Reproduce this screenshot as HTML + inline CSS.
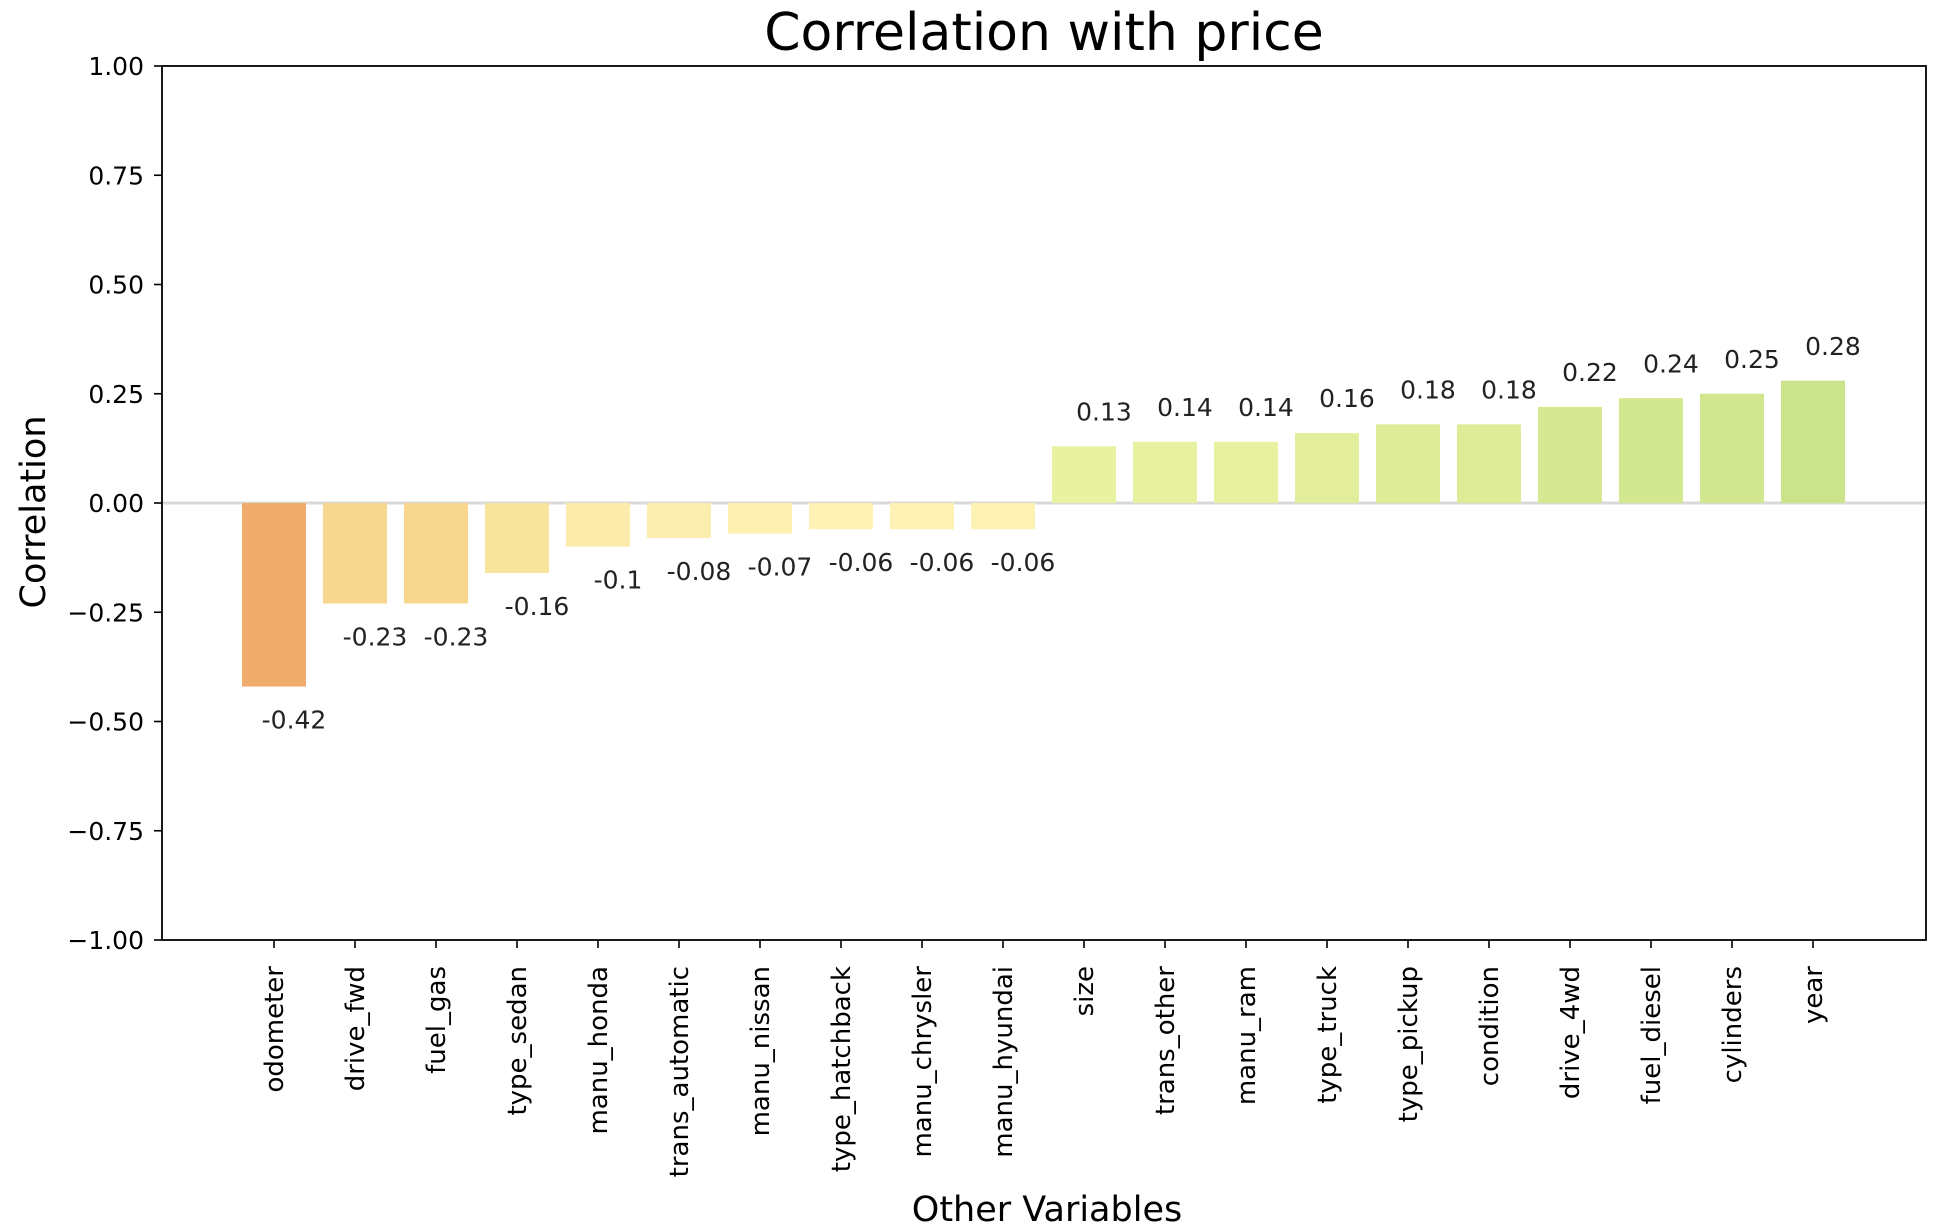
<!DOCTYPE html>
<html><head><meta charset="utf-8"><style>
html,body{margin:0;padding:0;background:#fff;}
svg{display:block;font-family:"DejaVu Sans","Liberation Sans",sans-serif;}
</style></head><body>
<svg id="chart" width="1952" height="1230" viewBox="0 0 1952 1230" xmlns="http://www.w3.org/2000/svg">
<text x="1044" y="50" font-size="52" text-anchor="middle" fill="#000">Correlation with price</text>
<text transform="translate(45,512) rotate(-90)" font-size="35" text-anchor="middle" fill="#000">Correlation</text>
<text x="1047" y="1221" font-size="35" text-anchor="middle" fill="#000">Other Variables</text>
<g id="yticks"></g>
<g id="bars"></g>
<g id="xticks"></g>
<rect x="162" y="66" width="1764" height="874" fill="none" stroke="#000" stroke-width="1.8"/>
</svg>
<script>
const categories = ["odometer","drive_fwd","fuel_gas","type_sedan","manu_honda","trans_automatic","manu_nissan","type_hatchback","manu_chrysler","manu_hyundai","size","trans_other","manu_ram","type_truck","type_pickup","condition","drive_4wd","fuel_diesel","cylinders","year"];
const values = [-0.42,-0.23,-0.23,-0.16,-0.1,-0.08,-0.07,-0.06,-0.06,-0.06,0.13,0.14,0.14,0.16,0.18,0.18,0.22,0.24,0.25,0.28];
const valueLabels = ["-0.42","-0.23","-0.23","-0.16","-0.1","-0.08","-0.07","-0.06","-0.06","-0.06","0.13","0.14","0.14","0.16","0.18","0.18","0.22","0.24","0.25","0.28"];
const yTicks = [1,0.75,0.5,0.25,0,-0.25,-0.5,-0.75,-1];
const yTickLabels = ["1.00","0.75","0.50","0.25","0.00","\u22120.25","\u22120.50","\u22120.75","\u22121.00"];

const NS = "http://www.w3.org/2000/svg";
const plotTop = 66, plotBottom = 940, plotLeft = 162, plotRight = 1926;
function yScale(v){ return plotTop + (1 - v) / 2 * (plotBottom - plotTop); }
const step = 81.0;
function xScale(i){ return 274 + i * step; }
const barW = step * 0.79;
const stops = [[-0.42,[240,172,108]],[-0.23,[247,214,142]],[-0.16,[249,228,157]],[-0.06,[253,241,180]],[0,[252,246,184]],[0.13,[233,242,161]],[0.18,[222,236,152]],[0.28,[203,227,138]]];
function colorFor(v){
  if (v <= stops[0][0]) return `rgb(${stops[0][1]})`;
  for (let k=1;k<stops.length;k++){
    if (v <= stops[k][0]){
      const a=stops[k-1], b=stops[k], t=(v-a[0])/(b[0]-a[0]);
      const c=a[1].map((x,j)=>Math.round(x+(b[1][j]-x)*t));
      return `rgb(${c.join(',')})`;
    }
  }
  return `rgb(${stops[stops.length-1][1]})`;
}
function mk(tag, attrs, parent){ const e=document.createElementNS(NS,tag); for(const k in attrs) e.setAttribute(k,attrs[k]); parent.appendChild(e); return e; }

const yg = document.getElementById('yticks');
yTicks.forEach((t,i)=>{
  const y=yScale(t);
  const tk = mk('line',{x1:plotLeft-8,x2:plotLeft,y1:y,y2:y,stroke:'#000','stroke-width':1.6},yg);
  
  
  const tx = mk('text',{x:plotLeft-18,y:y+9,'font-size':25,'text-anchor':'end',fill:'#000'},yg);
  tx.textContent = yTickLabels[i];
  
  
});

const bg = document.getElementById('bars');
const zl = mk('line',{x1:plotLeft,x2:plotRight,y1:yScale(0),y2:yScale(0),stroke:'#d9d9d9','stroke-width':3},bg);


const xg = document.getElementById('xticks');
values.forEach((v,i)=>{
  const cx=xScale(i), y0=yScale(0), y1=yScale(v);
  const r = mk('rect',{x:cx-barW/2,y:Math.min(y0,y1),width:barW,height:Math.abs(y1-y0),fill:colorFor(v)},bg);
  
  
  const ly = v>=0 ? yScale(v+0.05)-4 : yScale(v-0.05)+20;
  const lt = mk('text',{x:cx+20,y:ly,'font-size':25,'text-anchor':'middle',fill:'#222'},bg);
  lt.textContent = valueLabels[i];
  
  
  const tk = mk('line',{x1:cx,x2:cx,y1:plotBottom,y2:plotBottom+8,stroke:'#000','stroke-width':1.6},xg);
  
  
  const tx = mk('text',{transform:`translate(${cx+9},${plotBottom+26}) rotate(-90)`,'font-size':26,'text-anchor':'end',fill:'#000'},xg);
  tx.textContent = categories[i];
  
  
});
</script>
</body></html>
